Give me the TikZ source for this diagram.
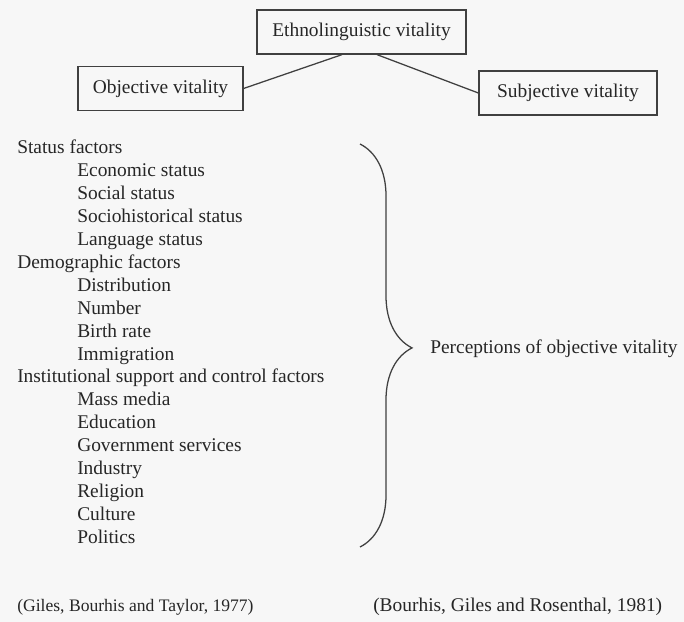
\documentclass[tikz,border=0pt]{standalone}
\usepackage{fontspec}
\setmainfont{Liberation Serif}
\usetikzlibrary{calc,decorations.pathreplacing}
\begin{document}
\begin{tikzpicture}[x=0.025cm, y=-0.025cm,
	every node/.style={font=\fontsize{13.8}{17}\selectfont, text=black!85},
	vital box/.style={draw=black!75, line width=0.9pt, inner sep=0pt, minimum height=1.1cm},
	factor/.style={anchor=base west, inner sep=0pt},
	link/.style={black!75, line width=0.9pt}]
		\fill[black!3] (0,0) rectangle (684,622);
		\useasboundingbox (0,0) rectangle (684,622);
		\node[vital box, minimum width=5.22cm] (ethno) at (361.5,32) {Ethnolinguistic vitality};
		\node[vital box, minimum width=4.12cm] (objective) at (160.5,88.5) {Objective vitality};
		\node[vital box, minimum width=4.45cm] (subjective) at (568,93) {Subjective vitality};
		\draw[link] (objective.east) -- ($(ethno.south)+(-19.5,0)$);
		\draw[link] ($(ethno.south)+(15.5,0)$) -- (subjective.west);
		\foreach \ind/\txt [count=\i from 0] in {0/Status factors, 1/Economic status,
		  1/Social status, 1/Sociohistorical status, 1/Language status,
		  0/Demographic factors, 1/Distribution, 1/Number, 1/Birth rate, 1/Immigration,
		  0/Institutional support and control factors, 1/Mass media, 1/Education,
		  1/Government services, 1/Industry, 1/Religion, 1/Culture, 1/Politics}{
		  \node[factor] (factor\i) at (17+60*\ind, 154+22.9*\i) {\txt};
		}
		\coordinate (brace top) at (360,144);
		\coordinate (brace bottom) at (360,547);
		\draw[link, decorate, decoration={brace, amplitude=1.3cm, aspect=0.506}] (brace top) -- (brace bottom);
		\node[factor] (perception) at (430,354) {Perceptions of objective vitality};
		\node[factor, font=\fontsize{12.5}{15}\selectfont] (cite giles) at (17,611) {(Giles, Bourhis and Taylor, 1977)};
		\node[factor] (cite bourhis) at (373,611) {(Bourhis, Giles and Rosenthal, 1981)};
	\end{tikzpicture}
\end{document}
